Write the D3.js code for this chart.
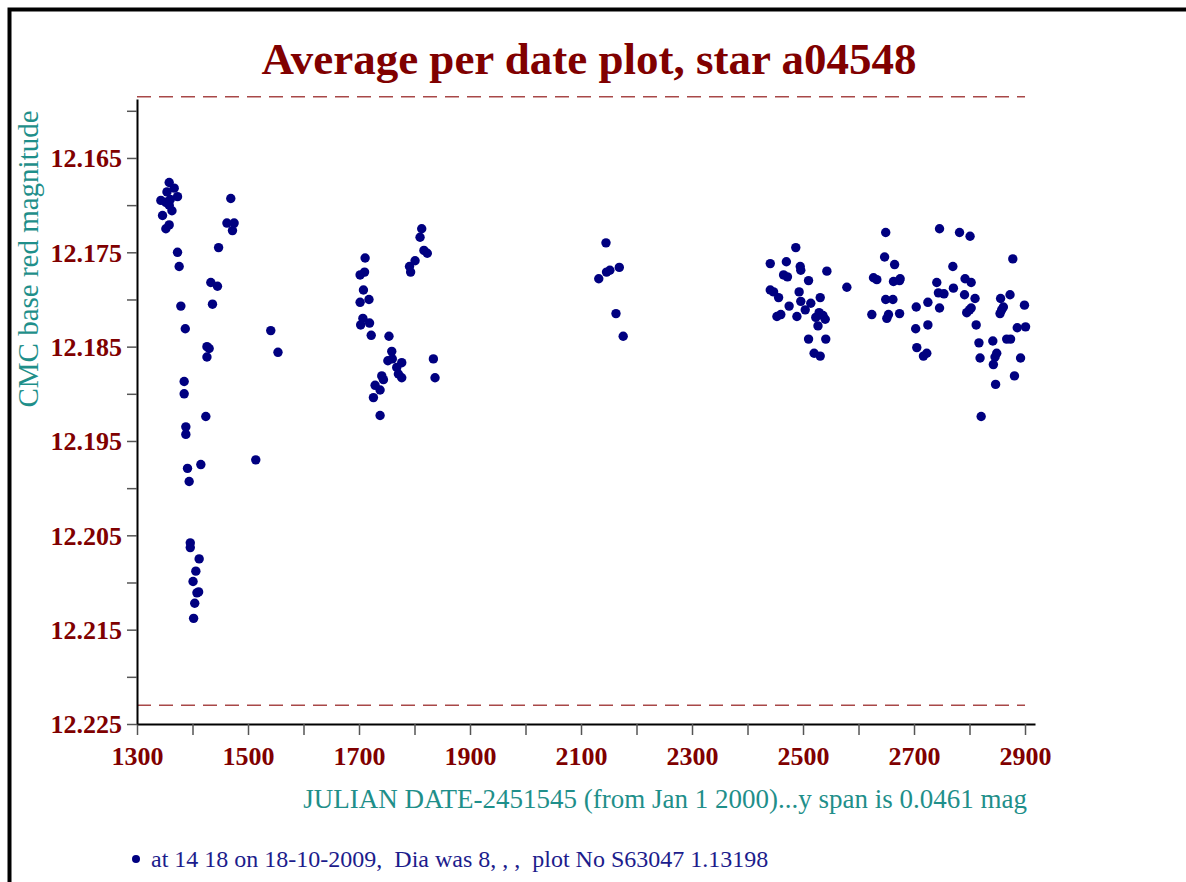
<!DOCTYPE html>
<html><head><meta charset="utf-8">
<script src="https://cdn.jsdelivr.net/npm/d3@7"></script>
<style>html,body{margin:0;padding:0;background:#fff;} svg{display:block;}</style>
</head><body>
<script>
const titleText = "Average per date plot, star a04548";
const xTitle = "JULIAN DATE-2451545 (from Jan 1 2000)...y span is 0.0461 mag";
const yTitle = "CMC base red magnitude";
const footerText = "at 14 18 on 18-10-2009,  Dia was 8, , ,  plot No S63047 1.13198";

const xTicks = [1300,1400,1500,1600,1700,1800,1900,2000,2100,2200,2300,2400,2500,2600,2700,2800,2900];
const xTickLabels = ["1300","1500","1700","1900","2100","2300","2500","2700","2900"];
const yTicks = [12.160,12.165,12.170,12.175,12.180,12.185,12.190,12.195,12.200,12.205,12.210,12.215,12.220,12.225];
const yTickLabels = ["12.165","12.175","12.185","12.195","12.205","12.215","12.225"];
const limitLines = [12.1585, 12.2230];

const days = [
1358,1367,1354,1373,1343,1352,1358,1363,1346,1352,1358,1360,
1469,1462,1475,1472,1447,1373,1376,1433,1445,1379,1436,1387,1426,1430,1426,1541,1554,
1385,1385,1424,1388,1388,1514,1415,1391,1394,1396,1396,1412,1406,1401,1408,1411,1404,1402,
1813,1810,1817,1823,1711,1801,1791,1793,1702,1710,1708,1702,1718,1707,1703,1719,1722,1754,
1759,1752,1760,1777,1768,1771,1777,1834,1837,1741,1744,1729,1738,1726,1738,
2145,2132,2146,2152,2169,2163,2176,
2487,2441,2470,2495,2496,2465,2472,2543,2510,2441,2447,2456,2493,2496,2531,2475,2514,2504,
2453,2460,2489,2529,2523,2536,2540,2527,2510,2541,2520,2531,2579,
2627,2633,2624,2649,2647,2665,2663,2675,2674,2649,2662,2651,2654,2674,
2746,2782,2801,2770,2741,2744,2754,2771,2792,2803,2791,2810,2725,2704,2746,2803,2800,2795,
2703,2725,2812,2705,2717,2723,2817,2819,
2878,2856,2873,2861,2858,2855,2899,2842,2867,2874,2886,2901,2849,2846,2843,2892,2881,2847,2821
];
const mags = [
12.1676,12.1682,12.1686,12.1691,12.1695,12.1697,12.1700,12.1706,12.1711,12.1725,12.1721,12.1694,
12.1693,12.1719,12.1719,12.1727,12.1745,12.1750,12.1765,12.1782,12.1786,12.1807,12.1805,12.1831,12.1850,12.1852,12.1861,12.1833,12.1856,
12.1887,12.1900,12.1924,12.1935,12.1943,12.1970,12.1975,12.1979,12.1993,12.2058,12.2063,12.2075,12.2088,12.2099,12.2111,12.2110,12.2122,12.2138,
12.1725,12.1734,12.1748,12.1751,12.1756,12.1759,12.1765,12.1771,12.1774,12.1771,12.1790,12.1803,12.1800,12.1820,12.1827,12.1825,12.1838,12.1839,
12.1855,12.1865,12.1863,12.1867,12.1872,12.1879,12.1883,12.1863,12.1883,12.1881,12.1885,12.1891,12.1896,12.1904,12.1923,
12.1740,12.1778,12.1771,12.1769,12.1766,12.1815,12.1839,
12.1745,12.1762,12.1760,12.1765,12.1769,12.1774,12.1776,12.1770,12.1780,12.1790,12.1792,12.1798,12.1792,12.1802,12.1798,12.1807,12.1804,12.1811,
12.1818,12.1816,12.1818,12.1814,12.1819,12.1817,12.1821,12.1828,12.1842,12.1842,12.1857,12.1860,12.1787,
12.1777,12.1779,12.1816,12.1729,12.1755,12.1763,12.1781,12.1778,12.1780,12.1800,12.1800,12.1820,12.1816,12.1815,
12.1725,12.1729,12.1733,12.1765,12.1782,12.1793,12.1794,12.1788,12.1778,12.1782,12.1795,12.1799,12.1803,12.1808,12.1809,12.1809,12.1811,12.1814,
12.1831,12.1827,12.1827,12.1851,12.1860,12.1857,12.1846,12.1862,
12.1757,12.1799,12.1795,12.1808,12.1811,12.1815,12.1806,12.1844,12.1842,12.1842,12.1830,12.1829,12.1857,12.1861,12.1869,12.1862,12.1881,12.1890,12.1924
];

const W = 1186, H = 882;
const serif = "'Liberation Serif','Times New Roman',Times,serif";
const maroon = "#800000", teal = "#1f8f8a", navy = "#000080";

const svg = d3.select("body").append("svg").attr("width", W).attr("height", H);

// frame
svg.append("path").attr("d", `M9.5,${H} V9.5 H${W}`).attr("fill","none").attr("stroke","#000").attr("stroke-width",4);

const x = d3.scaleLinear().domain([1300, 2918]).range([137, 1035]);
const y = d3.scaleLinear().domain([12.15875, 12.225]).range([99, 724]);

// title
svg.append("text").attr("x", 589).attr("y", 74).attr("text-anchor","middle")
  .attr("font-family", serif).attr("font-weight","bold").attr("font-size", 45).attr("fill", maroon)
  .text(titleText);

// limit dashed lines
svg.selectAll("line.lim").data(limitLines).enter().append("line")
  .attr("x1", x(1300)).attr("x2", x(2900)).attr("y1", d => y(d)).attr("y2", d => y(d))
  .attr("stroke", "#a84848").attr("stroke-width", 1.5).attr("stroke-dasharray", "14,8");

// x axis
const xAxis = d3.axisBottom(x).tickValues(xTicks).tickSize(11).tickSizeOuter(0)
  .tickFormat(d => xTickLabels.includes(String(d)) ? String(d) : "");
const gx = svg.append("g").attr("transform", `translate(0,724)`).call(xAxis);
gx.select(".domain").attr("stroke","#000").attr("stroke-width",2);
gx.selectAll(".tick line").attr("stroke","#555").attr("stroke-width",1.5);
gx.selectAll(".tick text").attr("font-family", serif).attr("font-weight","bold").attr("font-size",26)
  .attr("fill", maroon).attr("dy", null).attr("y", 41);

// y axis
const yAxis = d3.axisLeft(y).tickValues(yTicks).tickSize(10).tickSizeOuter(0)
  .tickFormat(d => { const s = d.toFixed(3); return yTickLabels.includes(s) ? s : ""; });
const gy = svg.append("g").attr("transform", `translate(137,0)`).call(yAxis);
gy.select(".domain").attr("stroke","#000").attr("stroke-width",2);
gy.selectAll(".tick line").attr("stroke","#555").attr("stroke-width",1.5);
gy.selectAll(".tick text").attr("font-family", serif).attr("font-weight","bold").attr("font-size",26)
  .attr("fill", maroon).attr("x", -15).attr("dy", "0.34em");

// axis titles
svg.append("text").attr("x", 1027).attr("y", 808).attr("text-anchor","end")
  .attr("font-family", serif).attr("font-size", 27).attr("fill", teal).text(xTitle);
svg.append("text").attr("transform", "translate(38,259) rotate(-90)").attr("text-anchor","middle")
  .attr("font-family", serif).attr("font-size", 29).attr("fill", teal).text(yTitle);

// points
const pts = days.map((d, i) => ({d, m: mags[i]}));
svg.append("g").selectAll("circle").data(pts).enter().append("circle")
  .attr("cx", p => x(p.d)).attr("cy", p => y(p.m)).attr("r", 4.7).attr("fill", navy);

// footer
svg.append("circle").attr("cx", 136).attr("cy", 859).attr("r", 4).attr("fill", navy);
svg.append("text").attr("x", 151).attr("y", 867).attr("font-family", serif).attr("font-size", 24)
  .attr("fill", "#1c1c8c").style("white-space","pre").attr("xml:space","preserve").text(footerText);
</script>
</body></html>
